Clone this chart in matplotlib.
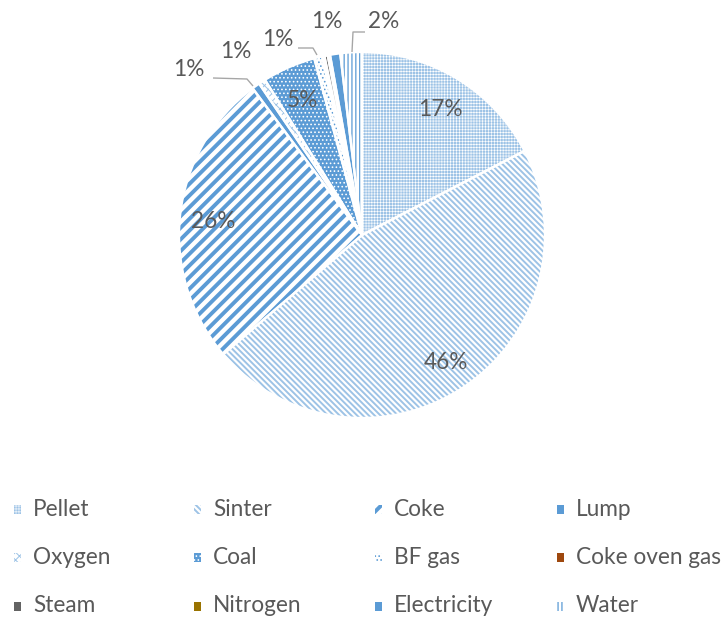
import math
import matplotlib
matplotlib.use("Agg")
import matplotlib.pyplot as plt
from matplotlib.patches import Rectangle

# Energy / material share of the process
categories = ["Pellet", "Sinter", "Coke", "Lump", "Oxygen", "Coal", "BF gas",
              "Coke oven gas", "Steam", "Nitrogen", "Electricity", "Water"]
shares = [17.4, 46.3, 26.1, 0.7, 0.6, 4.7, 0.7, 0.2, 0.3, 0.2, 0.9, 1.9]

W, H, DPI = 727, 617, 70
TXT = "#595959"
BLUE = "#5B9BD5"
LIGHT = "#9DC3E6"
FONT = ["Lato", "DejaVu Sans"]
FS = 22.6 * 72 / DPI   # ~22.6 px text

# fill style per category: (facecolor, hatch, hatch colour, hatch linewidth)
styles = {
    "Pellet":        ("#9DC3E6", "++++", "white", 0.6),
    "Sinter":        ("white", "\\\\\\\\", LIGHT, 2.0),
    "Coke":          ("white", "//", BLUE, 4.0),
    "Lump":          (BLUE, "", BLUE, 1.0),
    "Oxygen":        ("white", "xxx", LIGHT, 1.0),
    "Coal":          (BLUE, "...", "white", 1.0),
    "BF gas":        ("white", "...", BLUE, 1.0),
    "Coke oven gas": ("#9E480E", "", "#9E480E", 1.0),
    "Steam":         ("#636363", "", "#636363", 1.0),
    "Nitrogen":      ("#997300", "", "#997300", 1.0),
    "Electricity":   (BLUE, "", BLUE, 1.0),
    "Water":         ("white", "|||", BLUE, 1.3),
}


def Y(y):
    """Convert a top-down pixel row into the axes' upward y coordinate."""
    return H - y


def apply_style(patch, name):
    face, hatch, hcol, hlw = styles[name]
    patch.set_facecolor(face)
    patch.set_edgecolor(hcol)
    patch.set_linewidth(0)
    if hatch:
        patch.set_hatch(hatch)
        try:
            patch.set_hatch_linewidth(hlw)
        except AttributeError:
            pass


plt.rcParams["hatch.linewidth"] = 1.5
fig = plt.figure(figsize=(W / DPI, H / DPI), dpi=DPI)
ax = fig.add_axes([0, 0, 1, 1])

cx, cy, R = 362, Y(235), 183

wedges, _ = ax.pie(shares, startangle=90, counterclock=False,
                   center=(cx, cy), radius=R, frame=False)
for w, name in zip(wedges, categories):
    apply_style(w, name)

# white separators between slices
ax.pie(shares, startangle=90, counterclock=False, center=(cx, cy), radius=R,
       frame=False, wedgeprops=dict(fill=False, edgecolor="white", linewidth=2.4))

ax.set_xlim(0, W)
ax.set_ylim(0, H)
ax.set_aspect("auto")
ax.axis("off")

# percentage labels: large slices inside, small ones outside
inside = {"Pellet", "Sinter", "Coke", "Coal"}
outside_pos = {
    "Lump": (189, 70),
    "Oxygen": (236, 52),
    "BF gas": (278, 39),
    "Electricity": (327, 21),
    "Water": (384, 22),
}
angle = 90.0
total = sum(shares)
for name, v in zip(categories, shares):
    span = 360.0 * v / total
    mid = math.radians(angle - span / 2)
    angle -= span
    label = f"{round(v)}%"
    if name in inside:
        r = 0.82 * R
        x, y = cx + r * math.cos(mid), cy + r * math.sin(mid)
        ax.text(x, y - 3, label, ha="center", va="center", color=TXT,
                fontsize=FS, family=FONT)
    elif name in outside_pos:
        px, py = outside_pos[name]
        ax.text(px, Y(py), label, ha="center", va="center", color=TXT,
                fontsize=FS, family=FONT)

# leader lines for the outside labels
LEAD = dict(color="#A6A6A6", linewidth=1.4, solid_capstyle="butt")
ax.plot([213, 247, 253], [Y(78), Y(79), Y(86)], **LEAD)
ax.plot([298, 313, 317], [Y(48), Y(48), Y(55)], **LEAD)
ax.plot([365, 353, 352], [Y(32), Y(32), Y(52)], **LEAD)

# legend grid: 4 columns x 3 rows
col_x = [14, 194, 375, 557]
row_y = [509, 557, 606]
for i, name in enumerate(categories):
    r, c = divmod(i, 4)
    mx, my = col_x[c], row_y[r]
    sw = Rectangle((mx, Y(my) - 4.5), 7, 9)
    apply_style(sw, name)
    ax.add_patch(sw)
    ax.text(mx + 19, Y(my), name, ha="left", va="center", color=TXT,
            fontsize=FS, family=FONT)

fig.savefig("out.png", dpi=DPI, facecolor="white")
